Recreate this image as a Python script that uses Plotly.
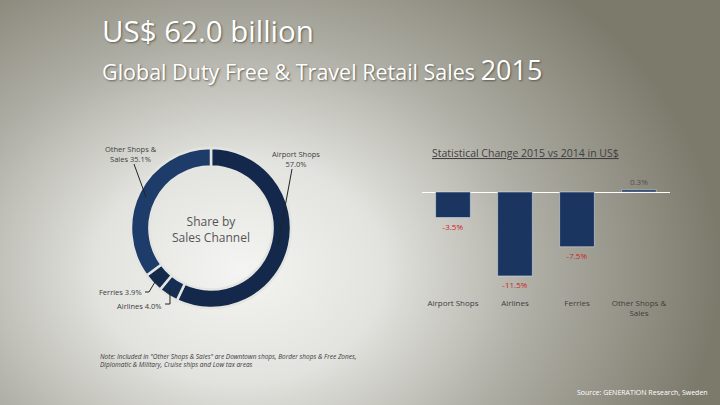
import base64
import plotly.graph_objects as go

# ---------------- data ----------------
share_channels = ["Airport Shops", "Airlines", "Ferries", "Other Shops & Sales"]
share_values = [57.0, 4.0, 3.9, 35.1]
share_colors = ["#13284a", "#172e54", "#142a4c", "#1d3c6a"]

change_categories = ["Airport Shops", "Airlines", "Ferries", "Other Shops &<br>Sales"]
change_values = [-3.5, -11.5, -7.5, 0.3]

W, H = 720, 405


def px(x):
    return x / W


def py(y):
    return 1 - y / H


# ---------------- background (radial gradient) ----------------
svg = f"""<svg xmlns='http://www.w3.org/2000/svg' width='{W}' height='{H}'>
<defs><radialGradient id='g' gradientUnits='userSpaceOnUse' cx='240' cy='270' r='480'
 gradientTransform='translate(240 270) scale(1 0.78) translate(-240 -270)'>
<stop offset='0' stop-color='#f4f4f2'/>
<stop offset='0.3' stop-color='#e2e2de'/>
<stop offset='0.62' stop-color='#aeada4'/>
<stop offset='1' stop-color='#7c7a6b'/>
</radialGradient></defs>
<rect width='{W}' height='{H}' fill='url(#g)'/></svg>"""
bg_src = "data:image/svg+xml;base64," + base64.b64encode(svg.encode()).decode()

fig = go.Figure()

# ---------------- donut ----------------
cx, cy, r = 211, 228, 80
fig.add_trace(go.Pie(
    labels=share_channels,
    values=share_values,
    sort=False,
    direction="clockwise",
    rotation=0,
    hole=0.77,
    textinfo="none",
    marker=dict(colors=share_colors, line=dict(color="#e4e4e0", width=2.5)),
    domain=dict(x=[px(cx - r), px(cx + r)], y=[py(cy + r), py(cy - r)]),
    showlegend=False,
))

# ---------------- bars ----------------
fig.add_trace(go.Bar(
    x=change_categories,
    y=change_values,
    marker=dict(color="#1a355f"),
    width=0.56,
    text=[f"{v:.1f}%" for v in change_values],
    textposition="outside",
    textfont=dict(size=8, color=["#d0202a" if v < 0 else "#505050" for v in change_values]),
    cliponaxis=False,
    xaxis="x", yaxis="y",
    showlegend=False,
))

zero_px, px_per_pct, top_px, bot_px = 192, 7.3, 175, 297
fig.update_layout(
    width=W, height=H,
    margin=dict(l=0, r=0, t=0, b=0),
    paper_bgcolor="#b0afa6",
    plot_bgcolor="rgba(0,0,0,0)",
    font=dict(family="Open Sans, DejaVu Sans", color="#404040"),
    xaxis=dict(domain=[px(422), px(670)], range=[-0.5, 3.5], showgrid=False,
               showline=False, ticks="", tickfont=dict(size=8, color="#404040"),
               fixedrange=True),
    yaxis=dict(domain=[py(bot_px), py(top_px)],
               range=[-(bot_px - zero_px) / px_per_pct, (zero_px - top_px) / px_per_pct],
               showgrid=False, showticklabels=False, zeroline=True,
               zerolinecolor="#ffffff", zerolinewidth=1.2, fixedrange=True),
    bargap=0.44,
    images=[dict(source=bg_src, xref="paper", yref="paper", x=0, y=1,
                 sizex=1, sizey=1, xanchor="left", yanchor="top",
                 sizing="stretch", layer="below")],
)

shadow = "1px 1px 2px rgba(60,60,50,0.7)"
ann = []


def text(x, y, s, size, color="#404040", xanchor="center", **kw):
    ann.append(dict(x=px(x), y=py(y), xref="paper", yref="paper", text=s,
                    showarrow=False, xanchor=xanchor, yanchor="middle",
                    font=dict(size=size, color=color, **kw.pop("font", {})), **kw))


# titles
text(100, 31, "US$ 62.0 billion", 29.5, "#ffffff", xanchor="left", font=dict(shadow=shadow))
text(100, 69, "Global Duty Free &amp; Travel Retail Sales <span style='font-size:27px'>2015</span>",
     21.5, "#ffffff", xanchor="left", font=dict(shadow=shadow))

# donut labels
text(131, 154, "Other Shops &amp;<br>Sales 35.1%", 7.5, align="center")
text(296, 159, "Airport Shops<br>57.0%", 7.5, align="center")
text(144, 292, "Ferries 3.9%", 7.5, xanchor="right")
text(164, 306, "Airlines 4.0%", 7.5, xanchor="right")
text(211, 229, "Share by<br>Sales Channel", 12, "#555555", align="center")

# bar chart title
text(430, 153, "<u>Statistical Change 2015 vs 2014 in US$</u>", 10.5, "#404040", xanchor="left")

# notes
text(98, 360, "<i>Note: Included in \"Other Shops &amp; Sales\" are Downtown shops, Border shops &amp; Free Zones,<br>"
     "Diplomatic &amp; Military, Cruise ships and Low tax areas</i>", 6.5, "#3a3a3a",
     xanchor="left", align="left")
text(710, 392, "Source: GENERATION Research, Sweden", 7, "#ffffff", xanchor="right")

fig.update_layout(annotations=ann)

# leader lines for donut labels
lines = [
    [(134, 164), (146, 197)],
    [(292, 169), (278, 245)],
    [(145, 292), (149, 292), (158, 277)],
    [(165, 304), (170, 304), (170, 288)],
]
shapes = []
for pts in lines:
    path = "M " + " L ".join(f"{px(x):.5f},{py(y):.5f}" for x, y in pts)
    shapes.append(dict(type="path", path=path, xref="paper", yref="paper",
                       line=dict(color="#222222", width=1)))
fig.update_layout(shapes=shapes)

fig.write_html("out.html", config={"displayModeBar": False},
               post_script="document.body.style.margin='0';document.body.style.overflow='hidden';")
